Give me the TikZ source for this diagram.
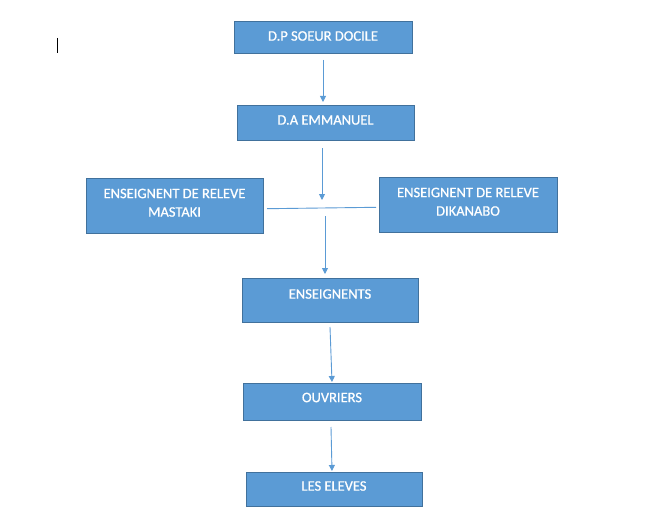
\documentclass[tikz,border=0pt]{standalone}
\usepackage{fontspec}
\setmainfont{Carlito}
\newfontfamily\boxfont[FakeBold=0.8]{Carlito}
\usetikzlibrary{arrows.meta}
\definecolor{boxfill}{HTML}{5B9BD5}
\definecolor{boxline}{HTML}{41719C}
\definecolor{arrcol}{HTML}{5B9BD5}
\tikzset{
  box/.style={draw=boxline, fill=boxfill, line width=0.9pt, anchor=north west, inner sep=0pt, outer sep=0pt},
  txt/.style={text=white, font=\boxfont\fontsize{14.5}{16}\selectfont, inner sep=0pt, align=center},
  arr/.style={draw=arrcol, line width=0.9pt, -{Triangle[length=6pt,width=6pt]}},
  conn/.style={draw=arrcol, line width=0.9pt}
}
\begin{document}
\begin{tikzpicture}[x=1pt,y=-1pt]
\useasboundingbox[fill=white] (0,0) rectangle (667,527);
% text cursor
\draw[line width=1pt] (57,38) -- (57,53);
% boxes
\node[box, minimum width=178pt, minimum height=32pt] (b1) at (234,21) {};
\node[box, minimum width=177pt, minimum height=35pt] (b2) at (237,105) {};
\node[box, minimum width=177pt, minimum height=55pt] (bl) at (86,178) {};
\node[box, minimum width=178pt, minimum height=55pt] (br) at (379,177) {};
\node[box, minimum width=176pt, minimum height=44pt] (b3) at (242,278) {};
\node[box, minimum width=178pt, minimum height=37pt] (b4) at (243,383) {};
\node[box, minimum width=176pt, minimum height=34pt] (b5) at (246,472) {};
% texts
\node[txt] (t1) at (323,36) {D.P SOEUR DOCILE};
\node[txt] (t2) at (325.5,120) {D.A EMMANUEL};
\node[txt] (tl1) at (174.5,193.5) {ENSEIGNENT DE RELEVE};
\node[txt] (tl2) at (174.5,212) {MASTAKI};
\node[txt] (tr1) at (468,192.5) {ENSEIGNENT DE RELEVE};
\node[txt] (tr2) at (468,211) {DIKANABO};
\node[txt] (t3) at (330,294) {ENSEIGNENTS};
\node[txt] (t4) at (332,397.5) {OUVRIERS};
\node[txt] (t5) at (334,486) {LES ELEVES};
% connectors
\coordinate (a1s) at (323,60);
\coordinate (a1e) at (323,102);
\coordinate (a2s) at (322,148);
\coordinate (a2e) at (322,200);
\coordinate (hl) at (267,208.7);
\coordinate (hr) at (376,207.3);
\coordinate (a3s) at (325,216);
\coordinate (a3e) at (325,274);
\coordinate (a4s) at (330,327);
\coordinate (a4e) at (332,382);
\coordinate (a5s) at (331,427);
\coordinate (a5e) at (332,471);
\draw[arr] (a1s) -- (a1e);
\draw[arr] (a2s) -- (a2e);
\draw[conn] (hl) -- (hr);
\draw[arr] (a3s) -- (a3e);
\draw[arr] (a4s) -- (a4e);
\draw[arr] (a5s) -- (a5e);
\end{tikzpicture}
\end{document}
